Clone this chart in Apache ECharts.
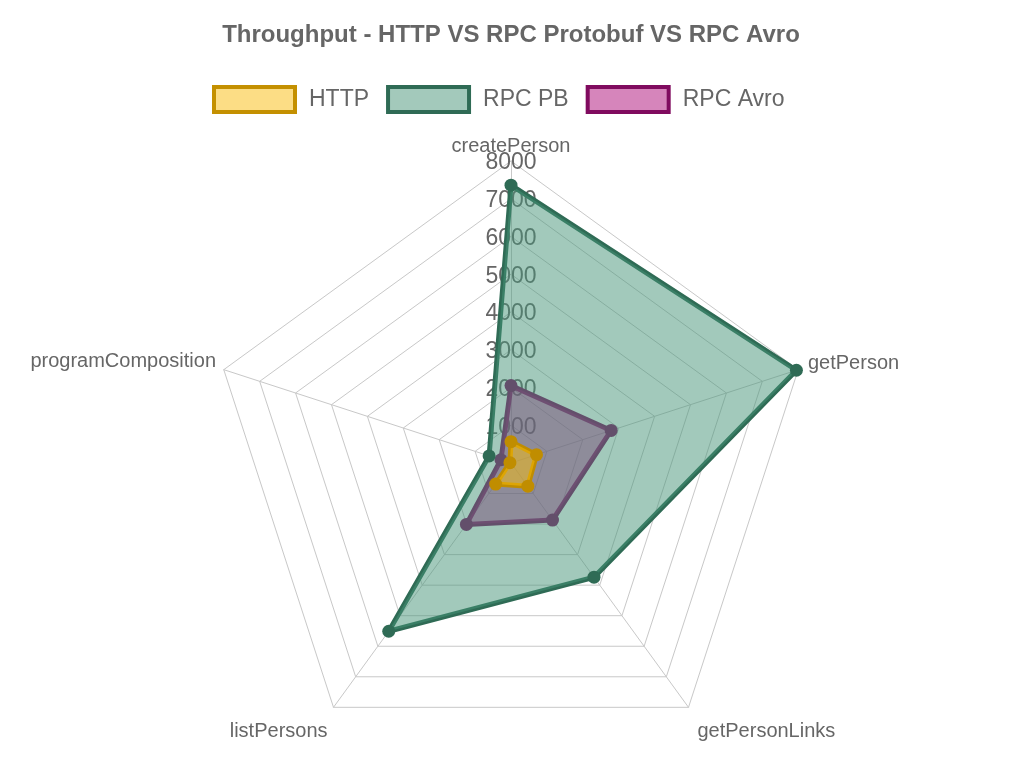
<!DOCTYPE html>
<html>
<head>
<meta charset="utf-8">
<script src="https://cdn.jsdelivr.net/npm/echarts@6/dist/echarts.min.js"></script>
<style>
html,body{margin:0;padding:0;background:#fff;}
#chart{width:1022px;height:766px;}
</style>
</head>
<body>
<div id="chart"></div>
<script>
// Categories (clockwise from top, as in the reference)
var categories = ['createPerson', 'getPerson', 'getPersonLinks', 'listPersons', 'programComposition'];
var seriesNames = ['HTTP', 'RPC PB', 'RPC Avro'];
var httpValues = [565, 710, 760, 690, 30];
var rpcPbValues = [7360, 7950, 3740, 5510, 610];
var rpcAvroValues = [2050, 2790, 1870, 2010, 280];
var axisMax = 8000;
var tickLabels = ['0', '1000', '2000', '3000', '4000', '5000', '6000', '7000', '8000'];

// ECharts lays indicators counter-clockwise, so reorder to keep clockwise layout
var order = [0, 4, 3, 2, 1];
function reorder(arr) { return order.map(function (i) { return arr[i]; }); }

var indicators = reorder(categories).map(function (name, k) {
  var ind = { name: name, max: axisMax, min: 0, nameMoveOverlap: false };
  if (k !== 0) ind.axisLabel = { show: false };
  return ind;
});

var font = '"Liberation Sans", Arial, Helvetica, sans-serif';
var nameRichKey = {
  createPerson: 't',
  getPerson: 'r',
  getPersonLinks: 'br',
  listPersons: 'bl',
  programComposition: 'l'
};
function richStyle(pad, lh) {
  var s = { fontFamily: font, fontSize: 20, color: '#666', padding: pad };
  if (lh) s.lineHeight = lh;
  return s;
}

var legendStyles = {
  'HTTP': { color: '#fcdd85', borderColor: '#c49000', borderWidth: 4 },
  'RPC PB': { color: '#a3c9bb', borderColor: '#2f6b55', borderWidth: 4 },
  'RPC Avro': { color: '#d685bb', borderColor: '#800b5f', borderWidth: 4 }
};

var chart = echarts.init(document.getElementById('chart'), null, { renderer: 'canvas' });

function radarSeries(name, values, line, fill, z) {
  return {
    type: 'radar',
    name: name,
    z: z,
    symbol: 'circle',
    symbolSize: 13,
    data: [{
      name: name,
      value: reorder(values),
      itemStyle: { color: line, borderColor: line, borderWidth: 0 },
      lineStyle: { color: line, width: 5 },
      areaStyle: { color: fill, opacity: 0.5 }
    }]
  };
}

var option = {
  backgroundColor: '#fff',
  animation: false,
  title: {
    text: 'Throughput - HTTP VS RPC Protobuf VS RPC Avro',
    left: 'center',
    top: 18,
    textStyle: { fontFamily: font, fontSize: 24, fontWeight: 'bold', color: '#666' }
  },
  legend: {
    top: 80,
    left: 207,
    itemWidth: 81,
    itemHeight: 25,
    itemGap: 17,
    data: seriesNames.map(function (n) {
      return { name: n, icon: 'rect', itemStyle: legendStyles[n] };
    }),
    textStyle: { fontFamily: font, fontSize: 23, color: '#666', padding: [2, 0, 0, 9] }
  },
  radar: {
    center: [511, 463],
    radius: 302,
    startAngle: 90,
    shape: 'polygon',
    splitNumber: 8,
    indicator: indicators,
    axisNameGap: 5,
    nameMoveOverlap: false,
    axisName: {
      fontFamily: font,
      fontSize: 20,
      color: '#666',
      formatter: function (name) { return '{' + nameRichKey[name] + '|' + name + '}'; },
      rich: {
        t: richStyle([0, 0, 0, 0]),
        r: richStyle([0, 0, 10, 5]),
        l: richStyle([0, 3, 14, 0]),
        bl: richStyle([40, 3, 0, 0]),
        br: richStyle([40, 0, 0, 6])
      }
    },
    axisLine: { lineStyle: { color: '#c8c8c8', width: 1 } },
    splitLine: { lineStyle: { color: '#c8c8c8', width: 1 } },
    splitArea: { show: false },
    axisTick: { show: false },
    axisLabel: {
      show: true,
      showMinLabel: false,
      margin: 0,
      align: 'center',
      verticalAlign: 'middle',
      fontFamily: font,
      fontSize: 23,
      color: '#666',
      formatter: function (v) { return '{v|' + tickLabels[Math.round(v / 1000)] + '}'; },
      rich: {
        v: { fontFamily: font, fontSize: 23, color: '#666', padding: [4, 0, 0, 0] }
      }
    }
  },
  series: [
    radarSeries('RPC Avro', rpcAvroValues, '#800b5f', 'rgb(174,12,124)', 2),
    radarSeries('RPC PB', rpcPbValues, '#2f6b55', 'rgb(70,148,120)', 3),
    radarSeries('HTTP', httpValues, '#c08d00', 'rgb(250,190,10)', 4)
  ]
};
chart.setOption(option);
</script>
</body>
</html>
